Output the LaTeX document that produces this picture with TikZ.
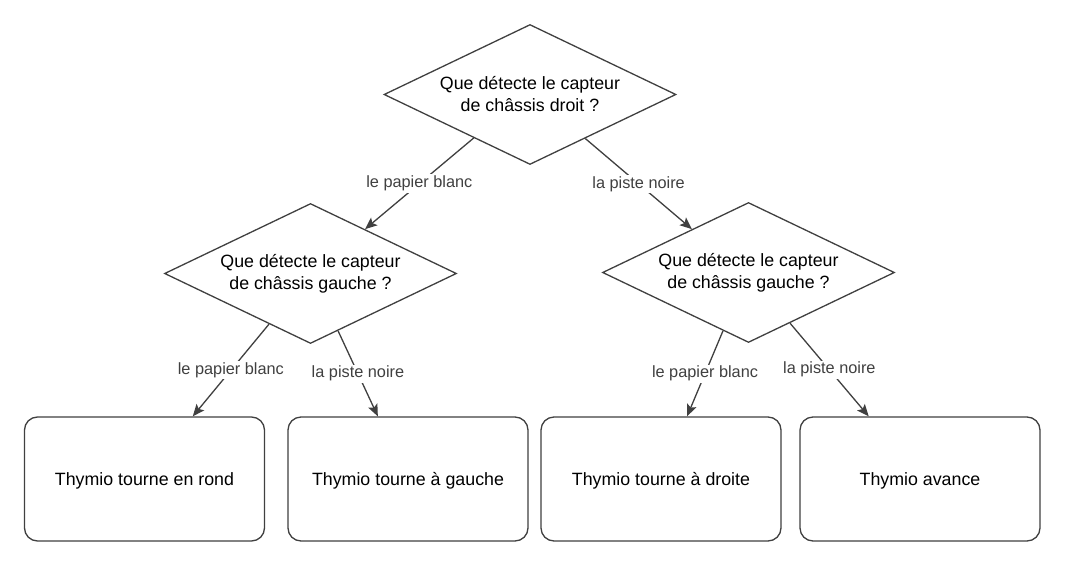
\documentclass[tikz,border=0pt]{standalone}
\usepackage{fontspec}
\setmainfont{Liberation Sans}
\usetikzlibrary{shapes.geometric,arrows.meta,calc}
\definecolor{linec}{HTML}{404040}
\definecolor{labc}{HTML}{404040}
\begin{document}
\begin{tikzpicture}[x=1pt,y=-1pt,
  decision/.style={diamond,aspect=2.07,draw=linec,line width=1.3pt,fill=white,inner sep=0pt,
    minimum width=292pt,minimum height=140pt,align=center,
    font=\fontsize{17.8}{22}\selectfont,text=black},
  action/.style={rectangle,rounded corners=13pt,draw=linec,line width=1.3pt,fill=white,
    minimum width=240pt,minimum height=124pt,inner sep=0pt,align=center,
    font=\fontsize{17.8}{22}\selectfont,text=black},
  conn/.style={draw=linec,line width=1.3pt,-{Stealth[length=12pt,width=10pt,inset=2.5pt]}},
  lab/.style={midway,fill=white,inner sep=1.5pt,text=labc,font=\fontsize{16.3}{19}\selectfont}]
\useasboundingbox (0,0) rectangle (1065,567);
\fill[white] (0,0) rectangle (1065,567);

\node[decision] (d0) at (530,94.5) {Que détecte le capteur\\de châssis droit ?};
\node[decision] (d1) at (310.5,273.5) {Que détecte le capteur\\de châssis gauche ?};
\node[decision] (d2) at (748.5,272.5) {Que détecte le capteur\\de châssis gauche ?};

\node[action] (b1) at (144.5,479) {};
\node[action] (b2) at (408,479) {};
\node[action] (b3) at (661,479) {};
\node[action] (b4) at (920,479) {};
\node[font=\fontsize{17.8}{22}\selectfont,inner sep=0pt] (b1t) at ($(b1.center)+(0,2)$) {Thymio tourne en rond};
\node[font=\fontsize{17.8}{22}\selectfont,inner sep=0pt] (b2t) at ($(b2.center)+(0,2)$) {Thymio tourne à gauche};
\node[font=\fontsize{17.8}{22}\selectfont,inner sep=0pt] (b3t) at ($(b3.center)+(0,2)$) {Thymio tourne à droite};
\node[font=\fontsize{17.8}{22}\selectfont,inner sep=0pt] (b4t) at ($(b4.center)+(0,2)$) {Thymio avance};

\coordinate (s0l) at ($(d0.west)!0.616!(d0.south)$);
\coordinate (s0r) at ($(d0.east)!0.623!(d0.south)$);
\coordinate (e1) at ($(d1.north)!0.372!(d1.east)$);
\coordinate (e2) at ($(d2.north)!0.386!(d2.west)$);
\coordinate (s1l) at ($(d1.west)!0.717!(d1.south)$);
\coordinate (s1r) at ($(d1.east)!0.812!(d1.south)$);
\coordinate (s2l) at ($(d2.west)!0.826!(d2.south)$);
\coordinate (s2r) at ($(d2.east)!0.717!(d2.south)$);
\coordinate (t1) at ($(b1.north west)!0.70!(b1.north east)$);
\coordinate (t2) at ($(b2.north west)!0.375!(b2.north east)$);
\coordinate (t3) at ($(b3.north west)!0.608!(b3.north east)$);
\coordinate (t4) at ($(b4.north west)!0.2875!(b4.north east)$);

\draw[conn] (s0l) -- node[lab] {le papier blanc} (e1);
\draw[conn] (s0r) -- node[lab] {la piste noire} (e2);
\draw[conn] (s1l) -- node[lab] {le papier blanc} (t1);
\draw[conn] (s1r) -- node[lab] {la piste noire} (t2);
\draw[conn] (s2l) -- node[lab] {le papier blanc} (t3);
\draw[conn] (s2r) -- node[lab] {la piste noire} (t4);
\end{tikzpicture}
\end{document}
